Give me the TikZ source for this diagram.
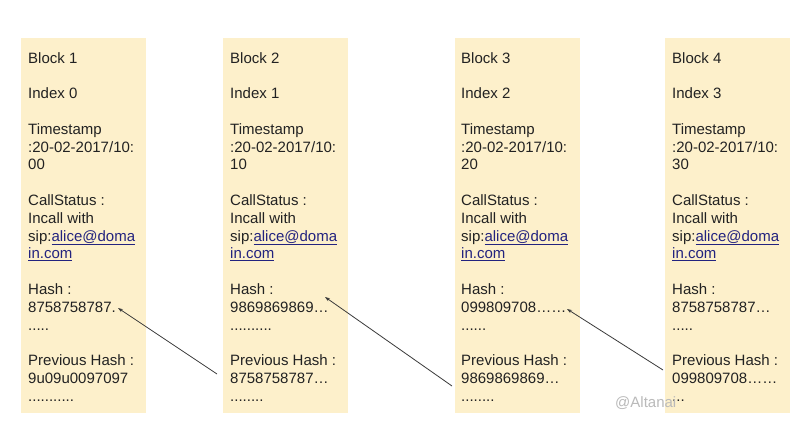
\documentclass[tikz,border=0pt]{standalone}
\usepackage{fontspec}
\setmainfont{Liberation Sans}
\usetikzlibrary{arrows.meta}
\definecolor{blockfill}{HTML}{FDF0CB}
\definecolor{linkblue}{HTML}{23237F}
\definecolor{txt}{HTML}{222222}
\definecolor{arrowcol}{HTML}{3A3A3A}
\newcommand{\lnk}[1]{{\color{linkblue}\underline{#1}}}
\newcommand{\gap}{\\ \mbox{}\\}
\tikzset{
  blockbox/.style={fill=blockfill, draw=none, minimum width=125pt, minimum height=375pt, anchor=north west, inner sep=0pt},
  blocktext/.style={anchor=north west, inner sep=0pt, align=left, text=txt, font=\fontsize{15}{17.8}\selectfont},
  link/.style={draw=arrowcol, line width=0.8pt, -{Stealth[length=5pt,width=3.5pt]}},
  wm/.style={anchor=base west, inner sep=0pt, text=black!27, font=\fontsize{15}{18}\selectfont}
}
\begin{document}
\begin{tikzpicture}[x=1pt,y=1pt]
\useasboundingbox (0,0) rectangle (800,433);
\fill[white] (0,0) rectangle (800,433);
\node[blockbox] (b1) at (21,395) {};
\node[blockbox] (b2) at (223,395) {};
\node[blockbox] (b3) at (455,395) {};
\node[blockbox] (b4) at (665,395) {};
\node[blocktext] (t1) at (28,381) {Block 1\gap Index 0\gap Timestamp\\:20-02-2017/10:\\00\gap CallStatus :\\Incall with\\sip:\lnk{alice@doma}\\\lnk{in.com}\gap Hash :\\8758758787.\\.....\gap Previous Hash :\\9u09u0097097\\...........};
\node[blocktext] (t2) at (230,381) {Block 2\gap Index 1\gap Timestamp\\:20-02-2017/10:\\10\gap CallStatus :\\Incall with\\sip:\lnk{alice@doma}\\\lnk{in.com}\gap Hash :\\9869869869…\\..........\gap Previous Hash :\\8758758787…\\........};
\node[blocktext] (t3) at (461,381) {Block 3\gap Index 2\gap Timestamp\\:20-02-2017/10:\\20\gap CallStatus :\\Incall with\\sip:\lnk{alice@doma}\\\lnk{in.com}\gap Hash :\\099809708……\\......\gap Previous Hash :\\9869869869…\\........};
\node[blocktext] (t4) at (672,381) {Block 4\gap Index 3\gap Timestamp\\:20-02-2017/10:\\30\gap CallStatus :\\Incall with\\sip:\lnk{alice@doma}\\\lnk{in.com}\gap Hash :\\8758758787…\\.....\gap Previous Hash :\\099809708……\\...};
\coordinate (s1) at (217,59);
\coordinate (e1) at (118,125);
\coordinate (s2) at (452,47);
\coordinate (e2) at (325,136);
\coordinate (s3) at (663,63);
\coordinate (e3) at (567,124);
\draw[link] (s1) -- (e1);
\draw[link] (s2) -- (e2);
\draw[link] (s3) -- (e3);
\node[wm] (w) at (615,25) {@Altanai};
\end{tikzpicture}
\end{document}
